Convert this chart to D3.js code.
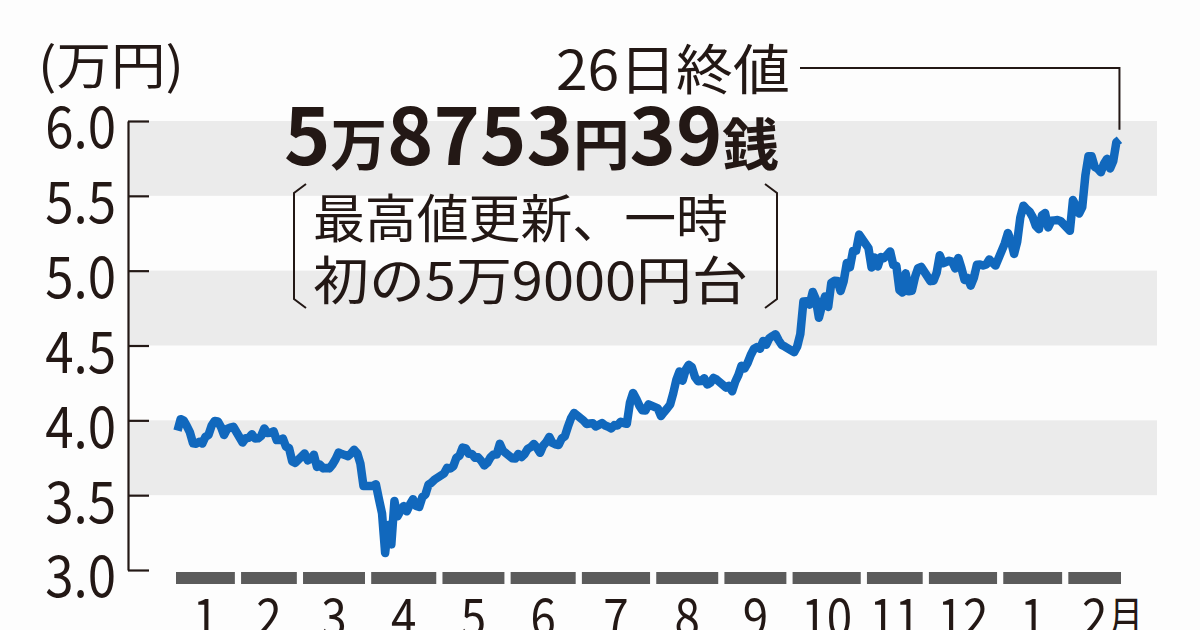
<!DOCTYPE html>
<html>
<head>
<meta charset="utf-8">
<script src="https://cdn.jsdelivr.net/npm/d3@7"></script>
<style>
  html, body { margin: 0; padding: 0; background: #fdfdfd; }
  text { font-family: "Noto Sans CJK JP", "Noto Sans", sans-serif; fill: #231815; }
</style>
</head>
<body>
<script>
// 日経平均終値（万円）、取引日ごと
var jan25 = [3.931, 4.008, 3.998, 3.961, 3.919, 3.847, 3.844, 3.857, 3.845, 3.890, 3.903, 3.965, 3.996, 3.993, 3.957, 3.902, 3.942, 3.951, 3.957];
var feb25 = [3.852, 3.880, 3.883, 3.907, 3.879, 3.880, 3.896, 3.946, 3.915, 3.917, 3.927, 3.868, 3.868, 3.878, 3.824, 3.814, 3.726, 3.716];
var mar25 = [3.779, 3.733, 3.742, 3.770, 3.689, 3.703, 3.679, 3.682, 3.679, 3.705, 3.740, 3.785, 3.775, 3.768, 3.761, 3.778, 3.803, 3.780, 3.712, 3.562];
var apr25 = [3.562, 3.573, 3.474, 3.378, 3.114, 3.301, 3.171, 3.461, 3.359, 3.398, 3.427, 3.392, 3.438, 3.473, 3.428, 3.422, 3.487, 3.504, 3.571, 3.584, 3.605];
var may25 = [3.645, 3.683, 3.678, 3.693, 3.750, 3.764, 3.818, 3.813, 3.776, 3.775, 3.750, 3.753, 3.730, 3.699, 3.716, 3.753, 3.772, 3.772, 3.843, 3.797];
var jun25 = [3.747, 3.745, 3.775, 3.755, 3.774, 3.809, 3.821, 3.842, 3.817, 3.783, 3.831, 3.854, 3.889, 3.849, 3.840, 3.835, 3.879, 3.894, 3.958, 4.015, 4.049];
var jul25 = [3.999, 3.976, 3.979, 3.981, 3.959, 3.969, 3.982, 3.965, 3.957, 3.946, 3.968, 3.966, 3.990, 3.982, 3.977, 4.117, 4.183, 4.146, 4.100, 4.067, 4.065, 4.107];
var aug25 = [4.080, 4.029, 4.055, 4.079, 4.106, 4.182, 4.272, 4.327, 4.265, 4.338, 4.371, 4.355, 4.289, 4.261, 4.263, 4.281, 4.239, 4.252, 4.283, 4.272];
var sep25 = [4.219, 4.231, 4.194, 4.258, 4.302, 4.364, 4.346, 4.384, 4.437, 4.477, 4.490, 4.479, 4.530, 4.505, 4.549, 4.563, 4.575, 4.535, 4.504, 4.493];
var oct25 = [4.455, 4.494, 4.577, 4.794, 4.795, 4.773, 4.858, 4.809, 4.685, 4.767, 4.828, 4.758, 4.919, 4.932, 4.931, 4.864, 4.930, 5.051, 5.022, 5.131, 5.133, 5.241];
var nov25 = [5.150, 5.021, 5.088, 5.028, 5.091, 5.084, 5.106, 5.128, 5.038, 5.032, 4.870, 4.854, 4.982, 4.863, 4.866, 4.956, 5.017, 5.025];
var dec25 = [4.930, 4.933, 4.986, 5.103, 5.049, 5.058, 5.066, 5.060, 5.015, 5.084, 5.017, 4.938, 4.951, 4.900, 4.951, 5.040, 5.041, 5.034, 5.041, 5.075, 5.053, 5.034];
var jan26 = [5.183, 5.252, 5.196, 5.112, 5.194, 5.355, 5.434, 5.411, 5.394, 5.358, 5.299, 5.277, 5.369, 5.385, 5.289, 5.333, 5.336, 5.338, 5.332];
var feb26 = [5.266, 5.472, 5.429, 5.382, 5.425, 5.636, 5.765, 5.764, 5.694, 5.681, 5.657, 5.714, 5.747, 5.683, 5.732, 5.858, 5.875];

var monthCloses = [jan25, feb25, mar25, apr25, may25, jun25, jul25, aug25, sep25, oct25, nov25, dec25, jan26, feb26];
var monthLabels = ['1', '2', '3', '4', '5', '6', '7', '8', '9', '10', '11', '12', '1', '2月'];
var yTicks = [3.0, 3.5, 4.0, 4.5, 5.0, 5.5, 6.0];

var unitLabel = '(万円)';
var calloutLabel = '26日終値';
var titleParts = [['5', true], ['万', false], ['8753', true], ['円', false], ['39', true], ['銭', false]];
var noteLines = ['最高値更新、一時', '初の5万9000円台'];

const width = 1200;
const height = 630;
const gapDays = 2; // 月の間のすき間（取引日換算）
const ink = '#231815';

var svg = d3.select('body').append('svg')
  .attr('width', width)
  .attr('height', height);

// 月ごとの位置
var offset = 0;
var months = monthCloses.map(function(vals, i) {
  var m = { label: monthLabels[i], start: offset, n: vals.length, vals: vals };
  offset += vals.length + gapDays;
  return m;
});
var totalUnits = offset - gapDays;

var x = d3.scaleLinear().domain([0, totalUnits]).range([176, 1121]);
var y = d3.scaleLinear().domain([3, 6]).range([570, 121]);

var points = months.flatMap(function(m) {
  return m.vals.map(function(v, i) { return { u: m.start + i + 0.5, v: v }; });
});

// 背景の帯
svg.append('g').selectAll('rect')
  .data(yTicks.filter(function(d, i) { return i % 2 === 1; }))
  .enter().append('rect')
  .attr('x', 128)
  .attr('width', 1157 - 128)
  .attr('y', function(d) { return y(d + 0.5); })
  .attr('height', function(d) { return y(d) - y(d + 0.5); })
  .attr('fill', '#ebebeb');

// y軸
var yAxis = svg.append('g')
  .attr('transform', 'translate(128,0)')
  .call(d3.axisLeft(y).tickValues(yTicks).tickSizeInner(-21).tickSizeOuter(0).tickFormat(d3.format('.1f')));
yAxis.select('.domain').attr('stroke', ink).attr('stroke-width', 2.2);
yAxis.selectAll('.tick line').attr('stroke', ink).attr('stroke-width', 2.2);
yAxis.selectAll('.tick text')
  .attr('x', null)
  .attr('dy', null)
  .attr('dominant-baseline', 'central')
  .attr('text-anchor', 'end')
  .attr('font-size', 58)
  .attr('fill', ink)
  .attr('transform', 'translate(-12,2) scale(0.88,1)');

// 月のバー
svg.append('g').selectAll('rect')
  .data(months)
  .enter().append('rect')
  .attr('x', function(m) { return x(m.start); })
  .attr('width', function(m) { return x(m.start + m.n) - x(m.start); })
  .attr('y', 572)
  .attr('height', 12)
  .attr('fill', '#5b5b5b');

// 月ラベル
var monthG = svg.append('g');
months.forEach(function(m) {
  var cx = x(m.start + m.n / 2);
  var num = m.label.replace('月', '');
  var t = monthG.append('text')
    .attr('text-anchor', 'middle')
    .attr('font-size', 52)
    .attr('transform', 'translate(' + cx + ',636) scale(0.88,1)')
    .text(num);
  if (num !== m.label) {
    var w = t.node().getComputedTextLength() * 0.88;
    monthG.append('text')
      .attr('font-size', 44)
      .attr('transform', 'translate(' + (cx + w / 2 + 1) + ',634) scale(0.8,1)')
      .text('月');
  }
});

// 線
var line = d3.line()
  .x(function(d) { return x(d.u); })
  .y(function(d) { return y(d.v); });

svg.append('path')
  .datum(points)
  .attr('d', line)
  .attr('fill', 'none')
  .attr('stroke', '#1168bd')
  .attr('stroke-width', 8.5)
  .attr('stroke-linejoin', 'round')
  .attr('stroke-linecap', 'butt');

// 文字を幅に合わせる
function fitText(t, x0, y0, w) {
  var bb = t.node().getBBox();
  var k = w / bb.width;
  t.attr('transform', 'translate(' + (x0 - bb.x * k) + ',' + y0 + ') scale(' + k + ',1)');
}

fitText(svg.append('text').attr('font-size', 50).text(unitLabel), 38, 84, 146);

var callout = svg.append('text').attr('font-size', 54).text(calloutLabel);
fitText(callout, 556, 90, 234);

var last = points[points.length - 1];
svg.append('path')
  .attr('d', 'M800,68H' + x(last.u) + 'V' + (y(last.v) - 10))
  .attr('fill', 'none')
  .attr('stroke', ink)
  .attr('stroke-width', 2);

var title = svg.append('text').attr('font-weight', 700);
title.selectAll('tspan')
  .data(titleParts)
  .enter().append('tspan')
  .attr('font-size', function(d) { return d[1] ? 78 : 56; })
  .text(function(d) { return d[0]; });
fitText(title, 284, 165, 495);

fitText(svg.append('text').attr('font-size', 52).text(noteLines[0]), 313, 238, 415);
fitText(svg.append('text').attr('font-size', 52).text(noteLines[1]), 313, 300, 435);

// かっこ
svg.append('path')
  .attr('d', 'M306,184L294,193V299L306,308M765,184L777,193V299L765,308')
  .attr('fill', 'none')
  .attr('stroke', ink)
  .attr('stroke-width', 2);
</script>
</body>
</html>
